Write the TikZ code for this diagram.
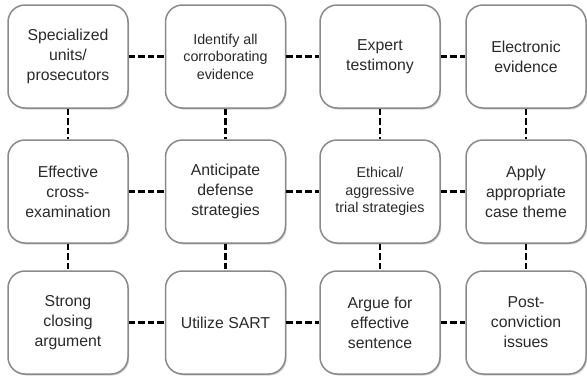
\documentclass[tikz,border=0pt]{standalone}
\usepackage{fontspec}
\setmainfont{Liberation Sans}
\usetikzlibrary{shadows}
\definecolor{boxline}{HTML}{8A8A8A}
\definecolor{txt}{HTML}{2A2A2A}
\tikzset{
  box/.style={draw=boxline, line width=1.5pt, rounded corners=17pt, fill=white,
    minimum width=120pt, minimum height=103pt, align=center, text=txt,
    inner sep=2pt, font=\fontsize{15.8}{20}\selectfont,
    drop shadow={shadow xshift=1.2pt, shadow yshift=-1.5pt, fill=black, opacity=0.18}},
  smallbox/.style={box, font=\fontsize{14.3}{17.5}\selectfont},
  conn/.style={draw=black, line width=2.2pt, dash pattern=on 6.5pt off 3pt}
}
\begin{document}
\begin{tikzpicture}[x=1pt,y=-1pt]
\useasboundingbox (0,0) rectangle (587,381);
% row 1
\node[box]      (a1) at (68,56.5)   {Specialized\\units/\\prosecutors};
\node[smallbox] (a2) at (225.5,56.5){Identify all\\corroborating\\evidence};
\node[box]      (a3) at (380,56.5)  {Expert\\testimony};
\node[box]      (a4) at (526,56.5)  {Electronic\\evidence};
% row 2
\node[box]      (b1) at (68,191.5)   {Effective\\cross-\\examination};
\node[box]      (b2) at (225.5,191.5){Anticipate\\defense\\strategies};
\node[smallbox] (b3) at (380,191.5)  {Ethical/\\aggressive\\trial strategies};
\node[box]      (b4) at (526,191.5)  {Apply\\appropriate\\case theme};
% row 3
\node[box]      (c1) at (68,322.5)   {Strong\\closing\\argument};
\node[box]      (c2) at (225.5,322.5){Utilize SART};
\node[box]      (c3) at (380,322.5)  {Argue for\\effective\\sentence};
\node[box]      (c4) at (526,322.5)  {Post-\\conviction\\issues};
% horizontal connectors
\draw[conn] (a1) -- (a2);
\draw[conn] (a2) -- (a3);
\draw[conn] (a3) -- (a4);
\draw[conn] (b1) -- (b2);
\draw[conn] (b2) -- (b3);
\draw[conn] (b3) -- (b4);
\draw[conn] (c1) -- (c2);
\draw[conn] (c2) -- (c3);
\draw[conn] (c3) -- (c4);
% vertical connectors
\draw[conn] (a1) -- (b1);
\draw[conn] (a2) -- (b2);
\draw[conn] (a3) -- (b3);
\draw[conn] (a4) -- (b4);
\draw[conn] (b1) -- (c1);
\draw[conn] (b2) -- (c2);
\draw[conn] (b3) -- (c3);
\draw[conn] (b4) -- (c4);
\end{tikzpicture}
\end{document}
